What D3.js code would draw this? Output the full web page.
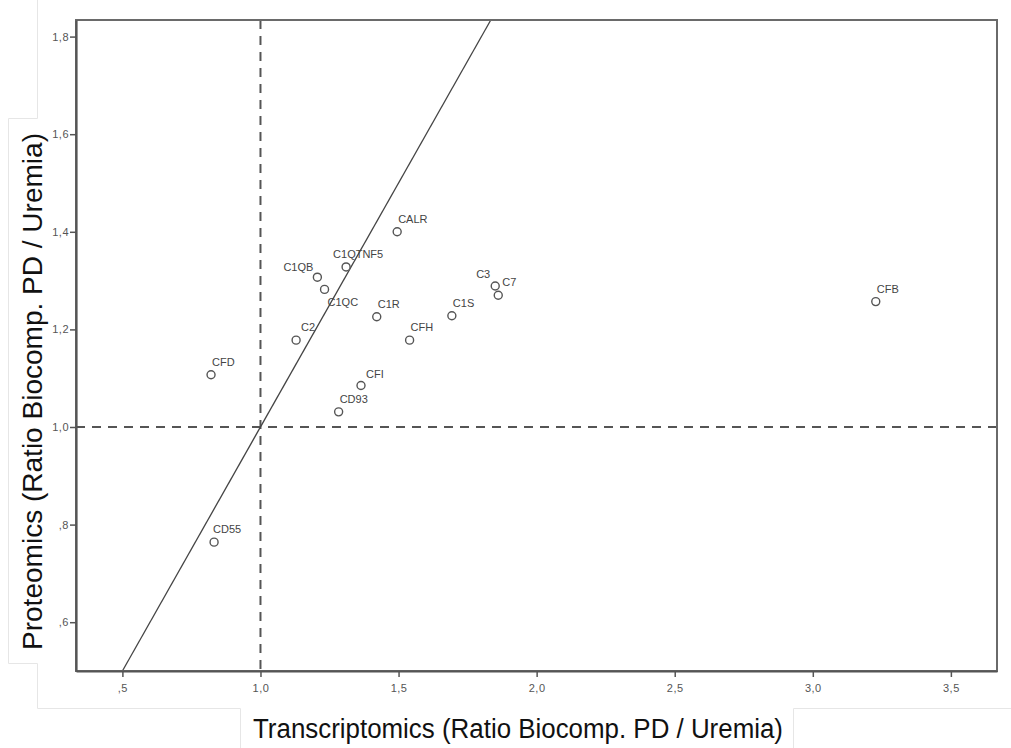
<!DOCTYPE html>
<html>
<head>
<meta charset="utf-8">
<script src="https://cdn.jsdelivr.net/npm/d3@7"></script>
<style>
  html, body { margin: 0; padding: 0; background: #fff; }
  svg { display: block; font-family: "Liberation Sans", Arial, sans-serif; }
</style>
</head>
<body>
<div id="chart"></div>
<script>
  // genes and their ratios (biocompatible PD / uremia)
  var genes = ['CFD', 'CD55', 'C2', 'C1QB', 'C1QC', 'C1QTNF5', 'CALR', 'C1R',
    'CFH', 'C1S', 'C3', 'C7', 'CFI', 'CD93', 'CFB'];
  var transcriptomics = [0.821, 0.832, 1.129, 1.206, 1.232, 1.310, 1.495, 1.421,
    1.540, 1.693, 1.850, 1.861, 1.364, 1.283, 3.228];
  var proteomics = [1.107, 0.764, 1.178, 1.307, 1.282, 1.328, 1.400, 1.226,
    1.178, 1.228, 1.289, 1.270, 1.085, 1.031, 1.257];

  var xTicks = [0.5, 1.0, 1.5, 2.0, 2.5, 3.0, 3.5];
  var yTicks = [0.6, 0.8, 1.0, 1.2, 1.4, 1.6, 1.8];
  var xTitle = 'Transcriptomics (Ratio Biocomp. PD / Uremia)';
  var yTitle = 'Proteomics (Ratio Biocomp. PD / Uremia)';

  var width = 1011, height = 748;
  var margin = { top: 20, right: 14, bottom: 77, left: 76 };

  // label placement relative to each circle: [dx, dy, anchor]
  var labelPos = {
    'C1QB': [-4, -6, 'end'],
    'C1QC': [3, 17, 'start'],
    'C1QTNF5': [-13, -9, 'start'],
    'C3': [-5, -8, 'end'],
    'C7': [4, -9, 'start'],
    'C2': [5, -9, 'start'],
    'CFI': [5, -8, 'start'],
    'CD55': [-1, -9, 'start']
  };

  // SPSS style number format: ",5" and "1,0"
  function spss(v) {
    var s = v.toFixed(1).replace('.', ',');
    return s.charAt(0) === '0' ? s.slice(1) : s;
  }

  var svg = d3.select('#chart').append('svg')
    .attr('width', width)
    .attr('height', height);

  var x = d3.scaleLinear().domain([0.332, 3.667]).range([margin.left, width - margin.right]);
  var y = d3.scaleLinear().domain([0.5, 1.834]).range([height - margin.bottom, margin.top]);

  // faint edges of the pasted panels
  var faint = svg.append('g')
    .attr('fill', 'none')
    .attr('stroke', '#e6e6e6')
    .attr('stroke-width', 1);
  faint.append('path').attr('d', 'M37.5,0V118.5H8.5V663.5H37.5V708.5H240.5V748');
  faint.append('path').attr('d', 'M793.5,748V708.5H1011');

  var plot = svg.append('g');

  // reference lines at ratio 1
  plot.append('line')
    .attr('x1', x(1)).attr('x2', x(1))
    .attr('y1', y.range()[1]).attr('y2', y.range()[0])
    .style('stroke', '#555')
    .style('stroke-width', 2)
    .style('stroke-dasharray', '9,7');
  plot.append('line')
    .attr('x1', x.range()[0]).attr('x2', x.range()[1])
    .attr('y1', y(1)).attr('y2', y(1))
    .style('stroke', '#555')
    .style('stroke-width', 2)
    .style('stroke-dasharray', '9,7');

  // identity line y = x
  var lo = 0.5, hi = y.domain()[1];
  plot.append('line')
    .attr('x1', x(lo)).attr('y1', y(lo))
    .attr('x2', x(hi)).attr('y2', y(hi))
    .style('stroke', '#444')
    .style('stroke-width', 1.3);

  // frame
  plot.append('rect')
    .attr('x', margin.left)
    .attr('y', margin.top)
    .attr('width', width - margin.left - margin.right)
    .attr('height', height - margin.top - margin.bottom)
    .attr('fill', 'none')
    .style('stroke', '#6a6a6a')
    .style('stroke-width', 2);

  var xAxis = d3.axisBottom(x).tickValues(xTicks).tickFormat(spss).tickSize(6).tickSizeOuter(0);
  var yAxis = d3.axisLeft(y).tickValues(yTicks).tickFormat(spss).tickSize(6).tickSizeOuter(0);

  var gx = svg.append('g')
    .attr('transform', 'translate(0,' + y.range()[0] + ')')
    .call(xAxis);
  var gy = svg.append('g')
    .attr('transform', 'translate(' + x.range()[0] + ',0)')
    .call(yAxis);

  [gx, gy].forEach(function(g) {
    g.select('.domain').style('stroke', '#555').style('stroke-width', 2.2);
    g.selectAll('.tick line').style('stroke', '#555').style('stroke-width', 1.5);
    g.selectAll('.tick text')
      .style('fill', '#555')
      .style('font-size', '11px')
      .style('letter-spacing', '0.5px')
      .style('font-family', '"Liberation Sans", Arial, sans-serif');
  });
  gx.selectAll('.tick text').attr('dy', '1.1em');
  gy.selectAll('.tick text').attr('x', -7);

  // points
  var points = genes.map(function(g, i) {
    return { gene: g, tx: transcriptomics[i], pr: proteomics[i] };
  });

  var pts = svg.append('g');
  pts.selectAll('circle')
    .data(points)
    .enter().append('circle')
    .attr('cx', function(d) { return x(d.tx); })
    .attr('cy', function(d) { return y(d.pr); })
    .attr('r', 4)
    .attr('fill', '#fff')
    .style('stroke', '#555')
    .style('stroke-width', 1.4);

  pts.selectAll('text')
    .data(points)
    .enter().append('text')
    .attr('x', function(d) {
      var p = labelPos[d.gene] || [1, -9, 'start'];
      return x(d.tx) + p[0];
    })
    .attr('y', function(d) {
      var p = labelPos[d.gene] || [1, -9, 'start'];
      return y(d.pr) + p[1];
    })
    .attr('text-anchor', function(d) {
      return (labelPos[d.gene] || [1, -9, 'start'])[2];
    })
    .style('font-size', '11px')
    .style('fill', '#444')
    .text(function(d) { return d.gene; });

  // axis titles
  svg.append('text')
    .attr('x', 253)
    .attr('y', 738)
    .attr('textLength', 530)
    .attr('lengthAdjust', 'spacingAndGlyphs')
    .style('font-size', '27px')
    .style('fill', '#111')
    .text(xTitle);

  svg.append('text')
    .attr('transform', 'translate(42,650) rotate(-90)')
    .attr('textLength', 517)
    .attr('lengthAdjust', 'spacingAndGlyphs')
    .style('font-size', '27px')
    .style('fill', '#111')
    .text(yTitle);
</script>
</body>
</html>
